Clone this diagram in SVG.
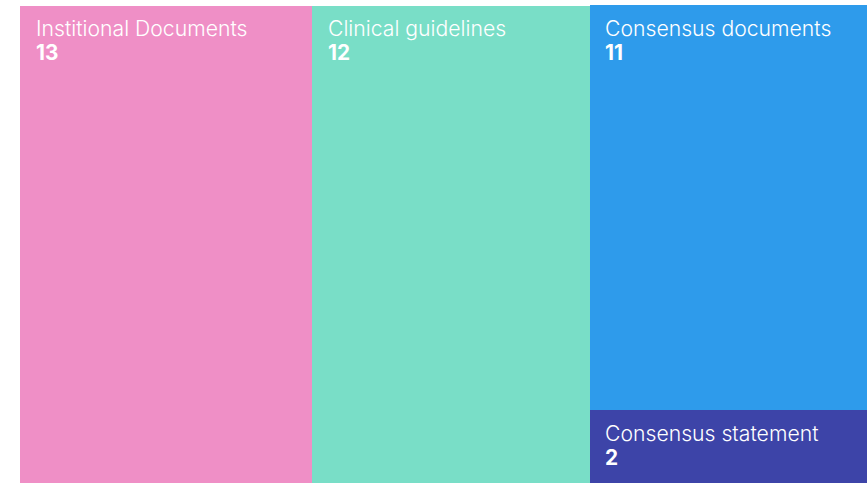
<svg xmlns="http://www.w3.org/2000/svg" width="867" height="483" viewBox="0 0 867 483">
<style>
.lbl{font-family:Inter,"Noto Sans","Liberation Sans",sans-serif;font-size:21.2px;font-weight:300;fill:#ffffff}
.val{font-family:Inter,"Noto Sans","Liberation Sans",sans-serif;font-size:20.8px;font-weight:bold;fill:#ffffff}
</style>
<rect width="867" height="483" fill="#ffffff"/>
<g id="institutional">
<rect x="20" y="6" width="292" height="477" fill="#EF8FC6"/>
<text class="lbl" x="36" y="36">Institional Documents</text>
<text class="val" x="36" y="60">13</text>
</g>
<g id="clinical">
<rect x="312" y="6" width="278" height="477" fill="#79DEC7"/>
<text class="lbl" x="328" y="36">Clinical guidelines</text>
<text class="val" x="328" y="60">12</text>
</g>
<g id="consensus-docs">
<rect x="590" y="5" width="277" height="405" fill="#2E9BEB"/>
<text class="lbl" x="605" y="36">Consensus documents</text>
<text class="val" x="605" y="60">11</text>
</g>
<g id="consensus-statement">
<rect x="590" y="410" width="277" height="73" fill="#3D44A8"/>
<text class="lbl" x="605" y="441">Consensus statement</text>
<text class="val" x="605" y="465">2</text>
</g>
<g id="connectors"/>
</svg>
